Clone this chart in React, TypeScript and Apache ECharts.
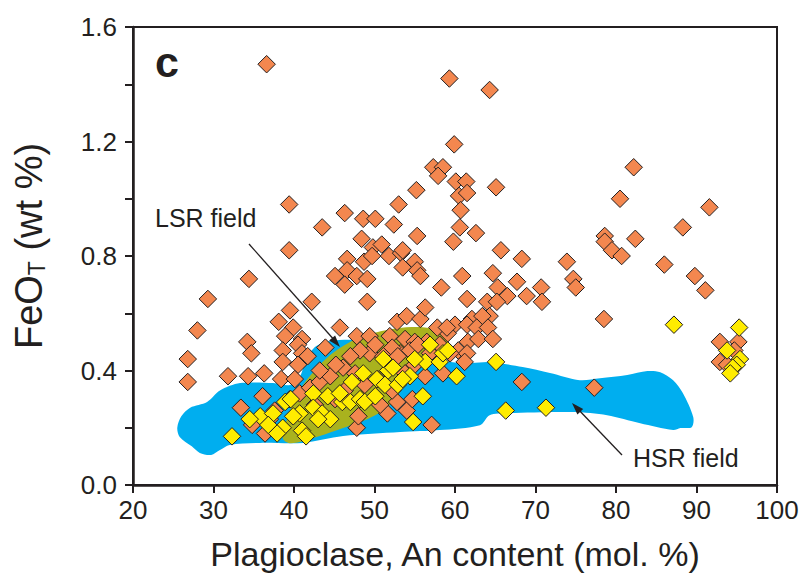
import React, { useEffect, useRef } from "react";
import * as echarts from "echarts";

// x: Plagioclase An content (mol. %), y: FeO_T (wt %)
const orangePoints: number[][] = [
  [36.6, 1.47], [59.3, 1.42], [64.3, 1.38], [59.9, 1.19], [82.2, 1.11], [57.3, 1.11], [58.5, 1.11], [57.9, 1.08],
  [55.2, 1.03], [65.1, 1.04], [60.1, 1.06], [61.4, 1.06], [60.5, 1.01], [61.5, 1.02], [60.7, 0.96], [60.6, 0.90],
  [62.6, 0.88], [59.8, 0.85], [53.0, 0.98], [46.3, 0.95], [48.6, 0.93], [50.1, 0.93], [52.4, 0.91], [55.3, 0.87],
  [48.4, 0.86], [49.8, 0.83], [50.9, 0.84], [51.8, 0.80], [53.3, 0.81], [53.5, 0.82], [46.6, 0.79], [48.7, 0.78],
  [55.0, 0.78], [39.4, 0.98], [43.5, 0.90], [39.4, 0.82], [65.7, 0.82], [68.3, 0.79], [73.9, 0.78], [74.7, 0.72],
  [75.0, 0.69], [80.5, 1.00], [91.6, 0.97], [88.3, 0.90], [82.4, 0.86], [78.6, 0.87], [78.6, 0.85], [79.5, 0.82],
  [80.7, 0.80], [86.0, 0.77], [89.8, 0.73], [91.1, 0.68], [60.9, 0.73], [64.7, 0.74], [67.7, 0.71], [70.7, 0.69],
  [65.3, 0.69], [66.5, 0.66], [68.9, 0.66], [70.8, 0.64], [61.5, 0.65], [64.0, 0.64], [65.2, 0.64], [64.3, 0.59],
  [62.1, 0.58], [63.4, 0.59], [60.0, 0.56], [61.5, 0.56], [62.7, 0.55], [64.1, 0.55], [59.1, 0.53], [61.6, 0.50],
  [62.9, 0.51], [64.7, 0.51], [60.4, 0.47], [61.5, 0.46], [61.2, 0.43], [78.5, 0.58], [68.3, 0.36], [77.3, 0.34],
  [92.9, 0.50], [95.2, 0.50], [92.9, 0.43], [93.8, 0.42], [94.7, 0.47], [34.4, 0.72], [29.3, 0.65], [28.0, 0.54],
  [26.8, 0.44], [26.8, 0.36], [34.2, 0.50], [34.7, 0.46], [31.8, 0.38], [34.3, 0.38], [36.3, 0.39], [39.5, 0.61],
  [38.1, 0.57], [39.9, 0.55], [38.9, 0.52], [41.0, 0.51], [38.6, 0.47], [40.5, 0.49], [41.0, 0.46], [42.2, 0.64],
  [38.6, 0.43], [40.5, 0.42], [41.7, 0.45], [43.9, 0.48], [38.4, 0.37], [40.1, 0.37], [45.7, 0.55], [46.1, 0.41],
  [45.1, 0.73], [46.6, 0.75], [47.8, 0.73], [46.3, 0.70], [49.1, 0.72], [49.7, 0.80], [53.5, 0.76], [55.3, 0.75],
  [55.7, 0.73], [49.1, 0.64], [58.3, 0.69], [47.8, 0.52], [49.4, 0.52], [51.9, 0.52], [52.8, 0.57], [54.0, 0.59],
  [55.7, 0.58], [56.3, 0.62], [53.8, 0.51], [55.0, 0.50], [56.5, 0.50], [57.8, 0.55], [59.0, 0.55], [53.2, 0.46],
  [54.4, 0.47], [52.2, 0.48], [49.4, 0.46], [51.1, 0.45], [52.9, 0.45], [58.5, 0.39], [33.4, 0.27], [36.1, 0.31],
  [34.8, 0.21], [36.4, 0.18], [47.8, 0.20], [57.1, 0.21], [54.0, 0.26], [52.8, 0.29], [48.0, 0.24], [51.6, 0.25],
  [54.7, 0.30], [39.5, 0.30], [40.7, 0.32], [42.0, 0.34], [43.2, 0.36], [44.5, 0.38], [47.6, 0.39], [48.8, 0.35],
  [50.4, 0.37], [53.8, 0.39], [55.0, 0.42], [56.9, 0.46], [58.1, 0.49], [55.4, 0.49], [50.1, 0.49], [48.2, 0.47],
  [47.0, 0.45], [45.2, 0.42], [43.2, 0.40], [46.3, 0.33], [45.1, 0.30], [42.6, 0.28], [37.6, 0.26], [37.0, 0.23],
  [50.7, 0.28], [52.2, 0.33], [56.3, 0.38], [59.4, 0.46],
];

const yellowPoints: number[][] = [
  [32.3, 0.17], [35.8, 0.24], [37.4, 0.25], [38.9, 0.29], [38.6, 0.20], [37.9, 0.18], [40.7, 0.25], [41.0, 0.19],
  [41.5, 0.17], [39.9, 0.24], [42.4, 0.32], [42.4, 0.27], [44.2, 0.31], [46.0, 0.29], [43.5, 0.25], [44.5, 0.23],
  [45.7, 0.32], [47.0, 0.29], [48.2, 0.30], [48.8, 0.29], [48.6, 0.39], [50.3, 0.37], [51.7, 0.40], [51.3, 0.35],
  [50.1, 0.31], [51.1, 0.44], [52.3, 0.41], [54.4, 0.38], [56.3, 0.43], [58.1, 0.43], [56.9, 0.49], [58.5, 0.46],
  [56.0, 0.31], [54.8, 0.22], [59.1, 0.47], [60.2, 0.38], [65.1, 0.43], [66.3, 0.26], [71.3, 0.27], [87.2, 0.56],
  [95.3, 0.55], [93.8, 0.47], [95.4, 0.44], [95.0, 0.42], [94.5, 0.41], [94.2, 0.39], [34.5, 0.23], [47.2, 0.36],
  [52.9, 0.35], [43.0, 0.23], [39.6, 0.30], [36.8, 0.21], [55.0, 0.44], [53.5, 0.37],
];

// HSR field outline (blue)
const hsrField: number[][] = [
  [25.5, 0.20], [26.0, 0.24], [27.1, 0.27], [29.2, 0.29], [30.8, 0.33], [33.3, 0.356], [37.4, 0.356], [39.5, 0.349],
  [40.7, 0.377], [41.4, 0.429], [42.6, 0.482], [44.5, 0.503], [48.2, 0.506], [53.2, 0.489], [58.1, 0.436],
  [61.9, 0.426], [64.3, 0.429], [68.4, 0.412], [71.8, 0.391], [75.5, 0.366], [78.0, 0.373], [81.4, 0.384],
  [83.9, 0.398], [85.5, 0.394], [87.1, 0.366], [88.3, 0.321], [89.6, 0.237], [89.4, 0.202], [88.0, 0.199],
  [87.1, 0.192], [83.0, 0.216], [78.9, 0.244], [74.7, 0.255], [66.5, 0.251], [64.3, 0.244], [63.1, 0.209],
  [58.1, 0.192], [53.2, 0.185], [46.1, 0.171], [41.1, 0.147], [35.8, 0.147], [32.0, 0.140], [30.8, 0.122],
  [29.7, 0.105], [28.3, 0.112], [27.3, 0.135], [25.8, 0.168],
];

// LSR field outline (olive)
const lsrField: number[][] = [
  [38.6, 0.164], [39.3, 0.244], [40.7, 0.332], [42.6, 0.401], [44.5, 0.454], [46.3, 0.489], [48.2, 0.517],
  [50.3, 0.534], [52.8, 0.548], [56.0, 0.551], [58.1, 0.538], [59.1, 0.513], [58.8, 0.478], [57.1, 0.443],
  [55.7, 0.422], [54.7, 0.391], [53.5, 0.339], [51.9, 0.279], [49.4, 0.234], [46.1, 0.199], [43.2, 0.171],
  [40.7, 0.150], [39.3, 0.147],
];

const xTickLabels = ["20", "30", "40", "50", "60", "70", "80", "90", "100"];
const yTickLabels = ["0.0", "0.4", "0.8", "1.2", "1.6"];

const INK = "#231f20";
const FONT = "'Liberation Sans', Arial, Helvetica, sans-serif";

function fieldSeries(name: string, pts: number[][], color: string) {
  return {
    type: "custom",
    name,
    data: pts,
    silent: true,
    encode: { x: 0, y: 1 },
    renderItem: (params: any, api: any) => {
      if (params.dataIndex !== 0) return null;
      const points = pts.map((p) => api.coord(p));
      return {
        type: "polygon",
        shape: { points, smooth: 0.3 },
        style: { fill: color, stroke: "none" },
      };
    },
  };
}

export default function App() {
  const ref = useRef<HTMLDivElement>(null);
  useEffect(() => {
    if (!ref.current) return;
    const chart = echarts.init(ref.current, null, { renderer: "svg" });
    const diamond = (color: string) => ({
      color,
      borderColor: INK,
      borderWidth: 1,
      opacity: 1,
    });
    chart.setOption({
      animation: false,
      backgroundColor: "#ffffff",
      textStyle: { fontFamily: FONT },
      grid: {
        left: 133,
        right: 34,
        top: 27,
        bottom: 103,
        show: true,
        borderColor: INK,
        borderWidth: 2,
        containLabel: false,
        outerBoundsMode: "none",
      },
      xAxis: {
        type: "value",
        min: 20,
        max: 100,
        interval: 10,
        name: "Plagioclase, An content (mol. %)",
        nameLocation: "middle",
        nameGap: 52,
        nameTextStyle: { fontSize: 34, color: INK, fontFamily: FONT },
        axisLine: { show: true, lineStyle: { color: INK, width: 2.5 } },
        axisTick: { show: true, inside: false, length: 8, lineStyle: { color: INK, width: 2 } },
        axisLabel: {
          fontSize: 26,
          color: INK,
          margin: 12,
          fontFamily: FONT,
          formatter: (v: number) => {
            const s = String(Math.round(v));
            return xTickLabels.includes(s) ? s : "";
          },
        },
        splitLine: { show: false },
      },
      yAxis: {
        type: "value",
        min: 0,
        max: 1.6,
        interval: 0.2,
        axisLine: { show: true, lineStyle: { color: INK, width: 2.5 } },
        axisTick: { show: true, inside: false, length: 8, lineStyle: { color: INK, width: 2 } },
        axisLabel: {
          fontSize: 26,
          color: INK,
          margin: 16,
          fontFamily: FONT,
          formatter: (v: number) => {
            const s = v.toFixed(1);
            return yTickLabels.includes(s) ? s : "";
          },
        },
        splitLine: { show: false },
      },
      series: [
        fieldSeries("HSR field", hsrField, "#00aeef"),
        fieldSeries("LSR field", lsrField, "#a9b21e"),
        {
          type: "scatter",
          name: "orange",
          data: orangePoints,
          symbol: "diamond",
          symbolSize: 17.5,
          itemStyle: diamond("#f3874f"),
          silent: true,
        },
        {
          type: "scatter",
          name: "yellow",
          data: yellowPoints,
          symbol: "diamond",
          symbolSize: 17.5,
          itemStyle: diamond("#ffec00"),
          silent: true,
        },
      ],
      graphic: [
        {
          type: "text",
          x: 29,
          y: 246,
          rotation: Math.PI / 2,
          style: {
            text: "FeO{sub|T} (wt %)",
            font: `38px ${FONT}`,
            fill: INK,
            align: "center",
            verticalAlign: "middle",
            rich: {
              sub: { fontSize: 23, fill: INK, fontFamily: FONT, padding: [16, 0, 0, 0] },
            },
          },
          z: 10,
        },
        {
          type: "text",
          left: 155,
          top: 40,
          style: { text: "c", font: `bold 43px ${FONT}`, fill: INK },
          z: 10,
        },
        {
          type: "text",
          left: 155,
          top: 205,
          style: { text: "LSR field", font: `25px ${FONT}`, fill: INK },
          z: 10,
        },
        {
          type: "text",
          left: 633,
          top: 445,
          style: { text: "HSR field", font: `25px ${FONT}`, fill: INK },
          z: 10,
        },
        {
          type: "line",
          shape: { x1: 249, y1: 244, x2: 336, y2: 342 },
          style: { stroke: INK, lineWidth: 1.3 },
          z: 10,
        },
        {
          type: "polygon",
          shape: { points: [[340, 347], [329.1, 340.6], [335.1, 335.4]] },
          style: { fill: INK },
          z: 10,
        },
        {
          type: "line",
          shape: { x1: 622, y1: 455, x2: 576, y2: 407 },
          style: { stroke: INK, lineWidth: 1.3 },
          z: 10,
        },
        {
          type: "polygon",
          shape: { points: [[572, 403], [583.2, 408.9], [577.4, 414.5]] },
          style: { fill: INK },
          z: 10,
        },
      ],
    });
    return () => chart.dispose();
  }, []);
  return <div ref={ref} style={{ width: 811, height: 588, position: "absolute", left: 0, top: 0 }} />;
}
